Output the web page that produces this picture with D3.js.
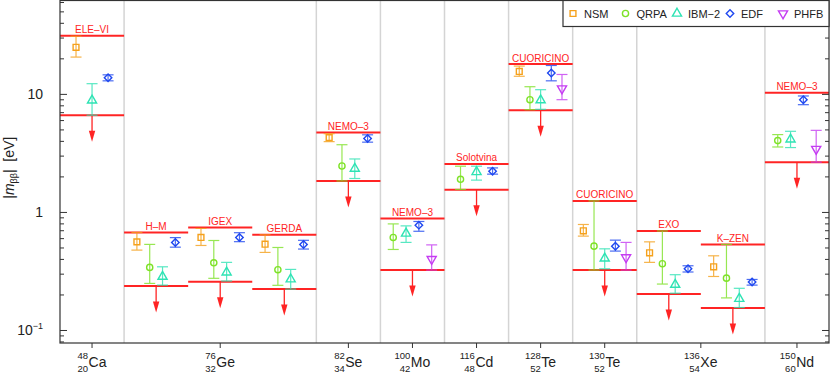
<!DOCTYPE html>
<html>
<head>
<meta charset="utf-8">
<script src="https://cdn.jsdelivr.net/npm/d3@7"></script>
<style>
body { margin: 0; background: #fff; }
svg text { font-family: "Liberation Sans", Arial, sans-serif; }
</style>
</head>
<body>
<div id="chart"></div>
<script>
// Experiments (one column each) and their limits on |m_bb| in eV
var experiments = ["ELE–VI", "H–M", "IGEX", "GERDA", "NEMO–3", "NEMO–3", "Solotvina", "CUORICINO", "CUORICINO", "EXO", "K–ZEN", "NEMO–3"];
var upperLimit = [31, 0.67, 0.74, 0.64, 4.7, 0.88, 2.55, 17.9, 1.24, 0.69, 0.53, 10.2];
var lowerLimit = [6.6, 0.236, 0.256, 0.222, 1.83, 0.322, 1.54, 7.25, 0.322, 0.2015, 0.1535, 2.64];

// Nuclei on the x axis, with the experiment columns they span
var elements = ["Ca", "Ge", "Se", "Mo", "Cd", "Te", "Te", "Xe", "Nd"];
var massNumbers = ["48", "76", "82", "100", "116", "128", "130", "136", "150"];
var atomicNumbers = ["20", "32", "34", "42", "48", "52", "52", "54", "60"];
var nucleusStart = [0, 1, 4, 5, 6, 7, 8, 9, 11];
var nucleusEnd = [1, 4, 5, 6, 7, 8, 9, 11, 12];

// Model predictions per experiment: [central, low, high], null when missing
var nsm = [[24.8, 20.5, 30.8], [0.558, 0.475, 0.67], [0.608, 0.52, 0.725], [0.533, 0.454, 0.64],
    [4.26, 3.94, 4.6], null, null, [15.5, 14.1, 17.2], [0.692, 0.624, 0.783],
    [0.451, 0.374, 0.558], [0.343, 0.284, 0.425], null];
var qrpa = [null, [0.339, 0.248, 0.531], [0.371, 0.274, 0.573], [0.324, 0.239, 0.50],
    [2.45, 1.83, 3.71], [0.608, 0.481, 0.792], [1.89, 1.55, 2.44], [8.93, 7.35, 11.5],
    [0.513, 0.322, 1.24], [0.364, 0.245, 0.69], [0.275, 0.187, 0.531], [4.02, 3.55, 4.52]];
var ibm2 = [[8.8, 6.6, 12.2], [0.283, 0.24, 0.343], [0.308, 0.26, 0.374], [0.269, 0.222, 0.326],
    [2.33, 1.92, 2.81], [0.657, 0.552, 0.762], [2.18, 1.86, 2.44], [8.85, 7.4, 10.85],
    [0.404, 0.33, 0.487], [0.242, 0.205, 0.294], [0.184, 0.155, 0.2255], [4.12, 3.51, 4.82]];
var edf = [[13.7, 12.9, 14.5], [0.552, 0.503, 0.606], [0.608, 0.56, 0.667], [0.531, 0.485, 0.575],
    [4.18, 3.9, 4.5], [0.773, 0.686, 0.83], [2.21, 2.09, 2.36], [15.0, 12.9, 17.4],
    [0.513, 0.466, 0.577], [0.33, 0.31, 0.35], [0.255, 0.24, 0.268], [8.93, 8.1, 9.6]];
var phfb = [null, null, null, null, null, [0.398, 0.322, 0.526], null, [11.1, 8.93, 14.6],
    [0.412, 0.322, 0.552], null, null, [3.41, 2.64, 4.91]];

var methodNames = ["NSM", "QRPA", "IBM\u22122", "EDF", "PHFB"];
var methodData = [nsm, qrpa, ibm2, edf, phfb];
var methodColors = ["#f5a11c", "#7ee228", "#2ee3b4", "#1f48f0", "#c53cf2"];

var svgWidth = 830;
var svgHeight = 373;
var plot = { left: 60, right: 829, top: 0.5, bottom: 343 };

var svg = d3.select("#chart")
    .append("svg")
    .attr("width", svgWidth)
    .attr("height", svgHeight);

var xScale = d3.scaleLinear()
    .domain([0, experiments.length])
    .range([plot.left, plot.right]);

var yScale = d3.scaleLog()
    .domain([0.0776, 61.8])
    .range([plot.bottom, plot.top]);

// symbol generators for each method (diamond = rotated square)
var symbols = [
    d3.symbol().type(d3.symbolSquare).size(34),
    d3.symbol().type(d3.symbolCircle).size(30),
    d3.symbol().type(d3.symbolTriangle).size(36),
    d3.symbol().type(d3.symbolSquare).size(28),
    d3.symbol().type(d3.symbolTriangle).size(36)
];
var symbolRotate = [0, 0, 0, 45, 180];
function drawMarker(g, m, cx, cy) {
    g.append("path")
        .attr("d", symbols[m]())
        .attr("transform", `translate(${cx},${cy}) rotate(${symbolRotate[m]})`)
        .attr("fill", "none")
        .attr("stroke", methodColors[m])
        .attr("stroke-width", 1.4);
}

// vertical separators between nuclei
svg.append("g").selectAll("line")
    .data(nucleusStart.slice(1))
    .enter()
    .append("line")
    .attr("x1", d => xScale(d))
    .attr("x2", d => xScale(d))
    .attr("y1", plot.top)
    .attr("y2", plot.bottom)
    .attr("stroke", "#d4d4d4")
    .attr("stroke-width", 1.5);

var red = "#ff2424";

// experimental limits
var limitGroup = svg.append("g");
experiments.forEach(function(name, i) {
    var x0 = xScale(i), x1 = xScale(i + 1), xc = xScale(i + 0.5);
    var yu = yScale(upperLimit[i]), yl = yScale(lowerLimit[i]);
    limitGroup.append("line")
        .attr("x1", x0).attr("x2", x1).attr("y1", yu).attr("y2", yu)
        .attr("stroke", red).attr("stroke-width", 2);
    limitGroup.append("line")
        .attr("x1", x0).attr("x2", x1).attr("y1", yl).attr("y2", yl)
        .attr("stroke", red).attr("stroke-width", 2);
    limitGroup.append("text")
        .attr("x", xc)
        .attr("y", yu - 2.5)
        .attr("text-anchor", "middle")
        .attr("font-size", "10px")
        .attr("fill", red)
        .text(name);
});

// model predictions with error bars
var pointGroup = svg.append("g");
experiments.forEach(function(name, i) {
    var present = [];
    methodData.forEach(function(series, m) {
        if (series[i]) present.push(m);
    });
    var n = present.length;
    present.forEach(function(m, k) {
        var d = methodData[m][i];
        var cx = xScale(i + (k + 1) / (n + 1));
        var ylo = yScale(d[1]), yhi = yScale(d[2]);
        var eb = pointGroup.append("g")
            .attr("stroke", methodColors[m])
            .attr("stroke-width", 1.2)
            .attr("opacity", 0.8);
        eb.append("line").attr("x1", cx).attr("x2", cx).attr("y1", ylo).attr("y2", yhi);
        eb.append("line").attr("x1", cx - 5.5).attr("x2", cx + 5.5).attr("y1", ylo).attr("y2", ylo);
        eb.append("line").attr("x1", cx - 5.5).attr("x2", cx + 5.5).attr("y1", yhi).attr("y2", yhi);
        drawMarker(pointGroup, m, cx, yScale(d[0]));
    });
});

// downward arrows from the lower limits
experiments.forEach(function(name, i) {
    var xc = xScale(i + 0.5), yl = yScale(lowerLimit[i]);
    limitGroup.append("line")
        .attr("x1", xc).attr("x2", xc).attr("y1", yl).attr("y2", yl + 17)
        .attr("stroke", red).attr("stroke-width", 1.3);
    limitGroup.append("path")
        .attr("d", `M${xc - 3.2},${yl + 15.5} L${xc + 3.2},${yl + 15.5} L${xc},${yl + 26.5} Z`)
        .attr("fill", red);
});

// axes and frame
var axisColor = "#333";
var leftG = svg.append("g")
    .attr("transform", `translate(${plot.left},0)`)
    .call(d3.axisRight(yScale).tickSize(4).tickFormat(""));
var rightG = svg.append("g")
    .attr("transform", `translate(${plot.right},0)`)
    .call(d3.axisLeft(yScale).tickSize(4).tickFormat(""));
[leftG, rightG].forEach(function(g) {
    g.select(".domain").remove();
    g.selectAll(".tick line")
        .attr("stroke", axisColor)
        .attr("x2", function(d) {
            var major = Math.abs(Math.log10(d) - Math.round(Math.log10(d))) < 1e-6;
            var len = major ? 7 : 4;
            return g === leftG ? len : -len;
        });
});

svg.append("rect")
    .attr("x", plot.left)
    .attr("y", plot.top)
    .attr("width", plot.right - plot.left)
    .attr("height", plot.bottom - plot.top)
    .attr("fill", "none")
    .attr("stroke", axisColor)
    .attr("stroke-width", 1.2);

// y tick labels
var yLabels = svg.append("g").attr("font-size", "14px").attr("fill", "#222");
[0.1, 1, 10].forEach(function(v) {
    var t = yLabels.append("text")
        .attr("x", 43)
        .attr("y", yScale(v) + 5)
        .attr("text-anchor", "end");
    if (v == 0.1) {
        t.append("tspan").text("10");
        t.append("tspan").attr("font-size", "9px").attr("dy", -6).text("\u22121");
    } else {
        t.text(v);
    }
});

// y axis title
var yTitle = svg.append("text")
    .attr("transform", `translate(14,${(plot.top + plot.bottom) / 2 - 4}) rotate(-90)`)
    .attr("text-anchor", "middle")
    .attr("font-size", "14px")
    .attr("fill", "#222");
yTitle.append("tspan").text("|");
yTitle.append("tspan").attr("font-style", "italic").text("m");
yTitle.append("tspan").attr("font-size", "9px").attr("dy", 3).text("\u03b2\u03b2");
yTitle.append("tspan").attr("dy", -3).text("|\u00a0\u00a0[eV]");

// x axis ticks and nucleus labels
var xLabels = svg.append("g").attr("fill", "#222");
elements.forEach(function(el, i) {
    var tx = xScale((nucleusStart[i] + nucleusEnd[i]) / 2);
    xLabels.append("line")
        .attr("x1", tx).attr("x2", tx)
        .attr("y1", plot.bottom).attr("y2", plot.bottom + 5)
        .attr("stroke", axisColor);
    var g = xLabels.append("g");
    g.append("text").attr("x", 0).attr("y", 367).attr("font-size", "14px").text(el);
    g.append("text").attr("x", -0.5).attr("y", 359).attr("font-size", "9.5px")
        .attr("text-anchor", "end").text(massNumbers[i]);
    g.append("text").attr("x", -0.5).attr("y", 371.5).attr("font-size", "9.5px")
        .attr("text-anchor", "end").text(atomicNumbers[i]);
    var bb = g.node().getBBox();
    g.attr("transform", `translate(${tx - (bb.x + bb.width / 2)},0)`);
});

// legend
var legend = svg.append("g");
legend.append("rect")
    .attr("x", 563)
    .attr("y", 0.5)
    .attr("width", plot.right - 563)
    .attr("height", 26)
    .attr("fill", "#fff")
    .attr("stroke", axisColor)
    .attr("stroke-width", 1.2);
var legendX = [573, 625.5, 677, 730, 783];
methodNames.forEach(function(name, m) {
    drawMarker(legend, m, legendX[m], 13.5);
    legend.append("text")
        .attr("x", legendX[m] + 11)
        .attr("y", 17.5)
        .attr("font-size", "11px")
        .attr("fill", "#222")
        .text(name);
});
</script>
</body>
</html>
